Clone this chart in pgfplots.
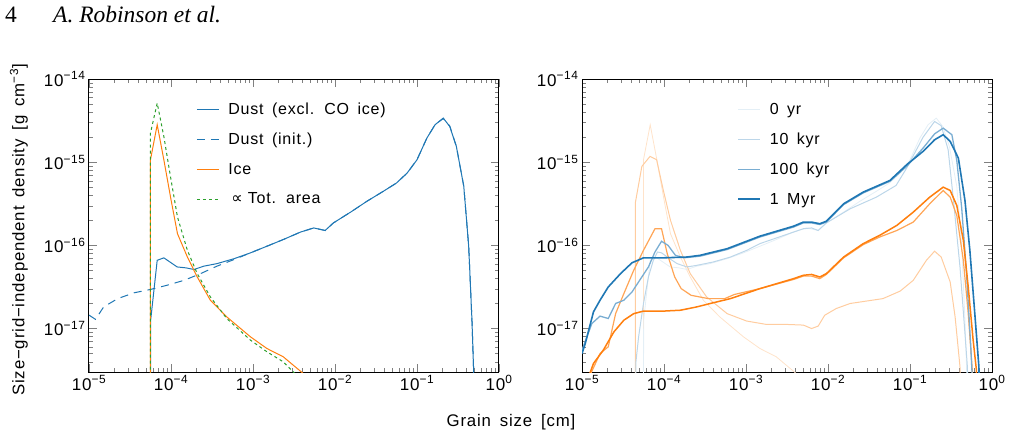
\documentclass[border=0pt]{standalone}
\usepackage{fontspec}
\setmainfont{Liberation Sans}[LetterSpace=5, WordSpace=1.6]
\newfontfamily\headfont{Liberation Serif}
\newfontfamily\symfont{DejaVu Sans}
\usepackage{pgfplots}
\usepackage{pgfplotstable}
\pgfplotsset{compat=1.18}

\definecolor{cblue}{RGB}{31,119,180}
\definecolor{corange}{RGB}{255,127,14}
\definecolor{cgreen}{RGB}{44,160,44}

\newcommand{\decpow}[1]{10\textsuperscript{#1}}

% grain size [cm]   density [g cm^-3]
\pgfplotstableread{
x y
5.62e-5 1e-18
5.65e-5 1.26e-17
6.79e-5 6.61e-17
8.18e-5 7.08e-17
1.19e-4 5.50e-17
1.51e-4 5.37e-17
1.91e-4 5.13e-17
2.51e-4 5.62e-17
3.63e-4 6.03e-17
5.89e-4 6.92e-17
9.33e-4 8.13e-17
1.48e-3 9.77e-17
2.34e-3 1.175e-16
3.80e-3 1.445e-16
5.50e-3 1.62e-16
7.59e-3 1.51e-16
9.55e-3 1.86e-16
1.55e-2 2.51e-16
2.45e-2 3.39e-16
3.89e-2 4.47e-16
5.62e-2 5.62e-16
7.59e-2 7.41e-16
0.1 1.07e-15
0.132 1.95e-15
0.166 2.82e-15
0.209 3.39e-15
0.251 2.69e-15
0.302 1.55e-15
0.372 5.13e-16
0.427 9.77e-17
0.468 1.26e-17
0.51 1e-18
}\dustzero

\pgfplotstableread{
x y
1e-5 1.45e-17
1.20e-5 1.29e-17
1.51e-5 1.82e-17
2.24e-5 2.29e-17
3.55e-5 2.69e-17
5.62e-5 2.95e-17
8.91e-5 3.31e-17
1.445e-4 3.80e-17
2.29e-4 4.57e-17
3.63e-4 5.62e-17
5.89e-4 6.76e-17
9.33e-4 8.13e-17
1.48e-3 9.77e-17
2.34e-3 1.175e-16
3.80e-3 1.445e-16
5.50e-3 1.62e-16
7.59e-3 1.51e-16
9.55e-3 1.86e-16
1.55e-2 2.51e-16
2.45e-2 3.39e-16
3.89e-2 4.47e-16
5.62e-2 5.62e-16
7.59e-2 7.41e-16
0.1 1.07e-15
0.132 1.95e-15
0.166 2.82e-15
0.209 3.35e-15
0.251 2.72e-15
0.302 1.55e-15
0.372 5.13e-16
0.427 9.77e-17
0.468 1.26e-17
0.51 1e-18
}\dustinit

\pgfplotstableread{
x y
5.62e-5 1e-18
5.62e-5 1.07e-15
6.79e-5 2.82e-15
8.18e-5 1.07e-15
1.0e-4 3.55e-16
1.20e-4 1.38e-16
1.585e-4 7.24e-17
2.09e-4 4.17e-17
3.02e-4 2.19e-17
4.79e-4 1.38e-17
9.33e-4 7.94e-18
1.48e-3 5.75e-18
2.34e-3 4.57e-18
3.98e-3 2.95e-18
4.47e-3 2.63e-18
}\icezero

\pgfplotstableread{
x y
5.62e-5 1e-18
5.62e-5 2.24e-15
6.79e-5 5.13e-15
8.18e-5 2.04e-15
1.0e-4 6.17e-16
1.20e-4 2.19e-16
1.585e-4 8.71e-17
2.09e-4 4.57e-17
3.02e-4 2.40e-17
4.79e-4 1.32e-17
9.33e-4 7.24e-18
1.48e-3 5.25e-18
2.34e-3 3.98e-18
3.16e-3 2.95e-18
3.5e-3 2.6e-18
}\totarea

% 10 kyr
\pgfplotstableread{
x y
4.47e-5 1e-18
4.55e-5 4.0e-18
4.90e-5 7.94e-18
5.62e-5 2.0e-17
6.46e-5 4.17e-17
7.41e-5 6.61e-17
8.32e-5 8.32e-17
9.33e-5 8.13e-17
1.135e-4 7.08e-17
1.445e-4 6.03e-17
1.905e-4 5.50e-17
2.51e-4 5.75e-17
3.98e-4 6.31e-17
6.46e-4 7.24e-17
1.02e-3 8.71e-17
1.48e-3 1.05e-16
3.80e-3 1.445e-16
5.01e-3 1.585e-16
6.31e-3 1.62e-16
7.59e-3 1.51e-16
9.55e-3 1.86e-16
1.86e-2 2.75e-16
3.89e-2 3.80e-16
6.76e-2 5.25e-16
9.12e-2 8.51e-16
0.1445 2.0e-15
0.1995 3.09e-15
0.24 2.75e-15
0.292 1.41e-15
0.339 3.47e-16
0.407 5.50e-17
0.468 8.71e-18
0.501 3.47e-18
0.52 1e-18
}\dustone

\pgfplotstableread{
x y
4.47e-5 1e-18
4.47e-5 3.24e-16
5.37e-5 8.91e-16
6.76e-5 1.175e-15
8.13e-5 1.07e-15
9.77e-5 4.68e-16
1.20e-4 2.0e-16
1.585e-4 8.71e-17
2.09e-4 4.57e-17
3.31e-4 2.40e-17
5.89e-4 1.51e-17
1.02e-3 1.23e-17
1.78e-3 1.12e-17
3.16e-3 1.12e-17
5.01e-3 1.10e-17
6.31e-3 1.0e-17
7.59e-3 1.07e-17
9.12e-3 1.445e-17
1.26e-2 1.74e-17
1.86e-2 2.0e-17
2.95e-2 2.14e-17
4.68e-2 2.29e-17
7.59e-2 2.82e-17
0.1096 3.80e-17
0.1585 6.61e-17
0.1995 8.51e-17
0.24 7.24e-17
0.309 3.63e-17
0.355 1.38e-17
0.407 3.47e-18
0.415 1e-18
}\iceone

% 100 kyr
\pgfplotstableread{
x y
1.0e-5 5.5e-18
1.32e-5 1.15e-17
1.66e-5 1.41e-17
2.09e-5 1.32e-17
2.57e-5 2.0e-17
3.24e-5 2.19e-17
4.07e-5 2.75e-17
5.37e-5 4.17e-17
6.46e-5 5.50e-17
7.76e-5 8.32e-17
9.33e-5 1.12e-16
1.12e-4 1.0e-16
1.38e-4 7.59e-17
1.74e-4 7.08e-17
2.75e-4 7.41e-17
5.89e-4 8.91e-17
1.48e-3 1.26e-16
3.80e-3 1.66e-16
5.01e-3 1.86e-16
6.31e-3 1.86e-16
7.94e-3 1.78e-16
9.55e-3 1.905e-16
1.55e-2 3.09e-16
2.69e-2 4.27e-16
5.69e-2 5.89e-16
9.12e-2 8.91e-16
0.1445 1.48e-15
0.1995 2.19e-15
0.254 2.57e-15
0.324 2.14e-15
0.372 1.05e-15
0.427 2.82e-16
0.49 4.47e-17
0.55 6.31e-18
0.575 2.5e-18
0.58 1e-18
}\dusttwo

\pgfplotstableread{
x y
1.2e-5 2.5e-18
1.66e-5 5.01e-18
2.09e-5 6.03e-18
2.57e-5 1.51e-17
3.24e-5 2.63e-17
4.27e-5 5.01e-17
5.62e-5 8.71e-17
7.76e-5 1.585e-16
9.33e-5 1.585e-16
1.096e-4 7.94e-17
1.35e-4 4.17e-17
1.62e-4 3.02e-17
2.14e-4 2.51e-17
3.47e-4 2.29e-17
5.50e-4 2.29e-17
7.24e-4 2.57e-17
1.48e-3 3.02e-17
3.80e-3 3.89e-17
5.01e-3 4.27e-17
6.31e-3 4.27e-17
7.94e-3 3.98e-17
9.55e-3 4.47e-17
1.55e-2 7.08e-17
2.69e-2 1.02e-16
4.27e-2 1.26e-16
6.92e-2 1.51e-16
0.1096 1.905e-16
0.174 3.16e-16
0.254 4.57e-16
0.309 3.80e-16
0.372 2.29e-16
0.447 6.61e-17
0.513 1.51e-17
0.575 3.16e-18
0.59 1e-18
}\icetwo

% 1 Myr
\pgfplotstableread{
x y
1.0e-5 5.0e-18
1.096e-5 6.61e-18
1.38e-5 1.585e-17
1.66e-5 2.19e-17
2.09e-5 3.16e-17
2.95e-5 4.57e-17
4.07e-5 6.17e-17
5.62e-5 7.08e-17
9.77e-5 7.08e-17
1.905e-4 7.24e-17
2.75e-4 7.59e-17
5.89e-4 9.12e-17
1.48e-3 1.29e-16
3.80e-3 1.70e-16
5.01e-3 1.905e-16
6.31e-3 1.905e-16
7.94e-3 1.82e-16
9.55e-3 1.95e-16
1.55e-2 3.16e-16
2.69e-2 4.37e-16
5.69e-2 6.03e-16
9.12e-2 9.33e-16
0.1445 1.35e-15
0.1995 1.86e-15
0.254 2.14e-15
0.309 1.78e-15
0.389 1.12e-15
0.468 3.47e-16
0.537 8.71e-17
0.617 1.51e-17
0.692 3.47e-18
0.71 1e-18
}\dustthree

\pgfplotstableread{
x y
1.2e-5 2.6e-18
1.38e-5 3.80e-18
1.82e-5 5.50e-18
2.45e-5 9.12e-18
3.24e-5 1.26e-17
4.27e-5 1.51e-17
5.62e-5 1.62e-17
9.77e-5 1.62e-17
1.585e-4 1.66e-17
2.51e-4 1.82e-17
3.98e-4 2.04e-17
6.46e-4 2.29e-17
1.48e-3 3.02e-17
3.80e-3 3.98e-17
5.01e-3 4.37e-17
6.31e-3 4.47e-17
7.94e-3 4.17e-17
9.55e-3 4.57e-17
1.55e-2 7.24e-17
2.69e-2 1.05e-16
4.27e-2 1.32e-16
6.92e-2 1.74e-16
0.1096 2.51e-16
0.174 3.80e-16
0.254 5.01e-16
0.309 4.57e-16
0.372 3.02e-16
0.447 1.15e-16
0.513 3.16e-17
0.589 7.24e-18
0.646 3.16e-18
0.66 1e-18
}\icethree

% common look of both panels
\pgfplotsset{every axis/.append style={
    scale only axis, width=410pt, height=293pt,
    xmin=1e-5, xmax=1, ymin=3e-18, ymax=1e-14,
    xtick={1e-5,1e-4,1e-3,1e-2,1e-1,1},
    xticklabels={\decpow{−5},\decpow{−4},\decpow{−3},\decpow{−2},\decpow{−1},\decpow{0}},
    ytick={1e-17,1e-16,1e-15,1e-14},
    yticklabels={\decpow{−17},\decpow{−16},\decpow{−15},\decpow{−14}},
    minor xtick={2e-5,3e-5,4e-5,5e-5,6e-5,7e-5,8e-5,9e-5,
                 2e-4,3e-4,4e-4,5e-4,6e-4,7e-4,8e-4,9e-4,
                 2e-3,3e-3,4e-3,5e-3,6e-3,7e-3,8e-3,9e-3,
                 2e-2,3e-2,4e-2,5e-2,6e-2,7e-2,8e-2,9e-2,
                 0.2,0.3,0.4,0.5,0.6,0.7,0.8,0.9},
    minor ytick={4e-18,5e-18,6e-18,7e-18,8e-18,9e-18,
                 2e-17,3e-17,4e-17,5e-17,6e-17,7e-17,8e-17,9e-17,
                 2e-16,3e-16,4e-16,5e-16,6e-16,7e-16,8e-16,9e-16,
                 2e-15,3e-15,4e-15,5e-15,6e-15,7e-15,8e-15,9e-15},
    tick align=inside,
    major tick length=8pt, minor tick length=4pt,
    axis line style={line width=1pt},
    tick label style={font=\fontsize{17}{20}\selectfont},
    legend cell align=left,
    legend style={draw=none, fill=none, anchor=north west,
      font=\fontsize{16}{19}\selectfont, row sep=13pt},
  },
  % a 22pt sample line, followed by a small gap before the text
  legend image code/.code={\draw[#1] (0pt,0pt) -- (22pt,0pt); \path (29pt,0pt);},
}

\begin{document}
\begin{tikzpicture}
\useasboundingbox (0pt,0pt) rectangle (1012pt,-436pt);

% running head
\node[anchor=base west, inner sep=0pt, font=\headfont\fontsize{23.5}{27}\selectfont] at (5pt,-23pt) {4};
\node[anchor=base west, inner sep=0pt, font=\headfont\itshape\fontsize{23.5}{27}\selectfont] at (53pt,-23pt) {A. Robinson et al.};

% shared axis titles
\node[rotate=90, font=\fontsize{16.8}{20}\selectfont] at (19pt,-230pt) {Size−grid−independent density [g cm\textsuperscript{−3}]};
\node[anchor=base, font=\fontsize{16.8}{20}\selectfont] at (511pt,-426pt) {Grain size [cm]};

% initial distribution
\begin{loglogaxis}[at={(89pt,-372pt)}, anchor=south west,
  legend style={at={(0.254,0.932)}}]
\addplot[cblue, line width=1pt] table {\dustzero};
\addlegendentry{Dust (excl. CO ice)}
\addplot[cblue, line width=1pt, dash pattern=on 8pt off 6pt] table {\dustinit};
\addlegendentry{Dust (init.)}
\addplot[corange, line width=1pt] table {\icezero};
\addlegendentry{Ice}
\addplot[cgreen, line width=1pt, dash pattern=on 3pt off 3pt] table {\totarea};
\addlegendentry{\hspace{3pt}{\symfont ∝}\hspace{5pt}Tot. area}
\end{loglogaxis}

% time evolution
\begin{loglogaxis}[at={(582pt,-372pt)}, anchor=south west,
  legend style={at={(0.371,0.932)}}]
\addplot[corange!22!white, line width=0.8pt, forget plot] table {\icezero};
\addplot[cblue!12!white, line width=0.8pt] table {\dustzero};
\addlegendentry{0 yr}
\addplot[corange!40!white, line width=1pt, forget plot] table {\iceone};
\addplot[cblue!30!white, line width=1pt] table {\dustone};
\addlegendentry{10 kyr}
\addplot[corange!70!white, line width=1.2pt, forget plot] table {\icetwo};
\addplot[cblue!60!white, line width=1.3pt] table {\dusttwo};
\addlegendentry{100 kyr}
\addplot[corange, line width=1.5pt, forget plot] table {\icethree};
\addplot[cblue, line width=1.6pt] table {\dustthree};
\addlegendentry{1 Myr}
\end{loglogaxis}
\end{tikzpicture}
\end{document}
